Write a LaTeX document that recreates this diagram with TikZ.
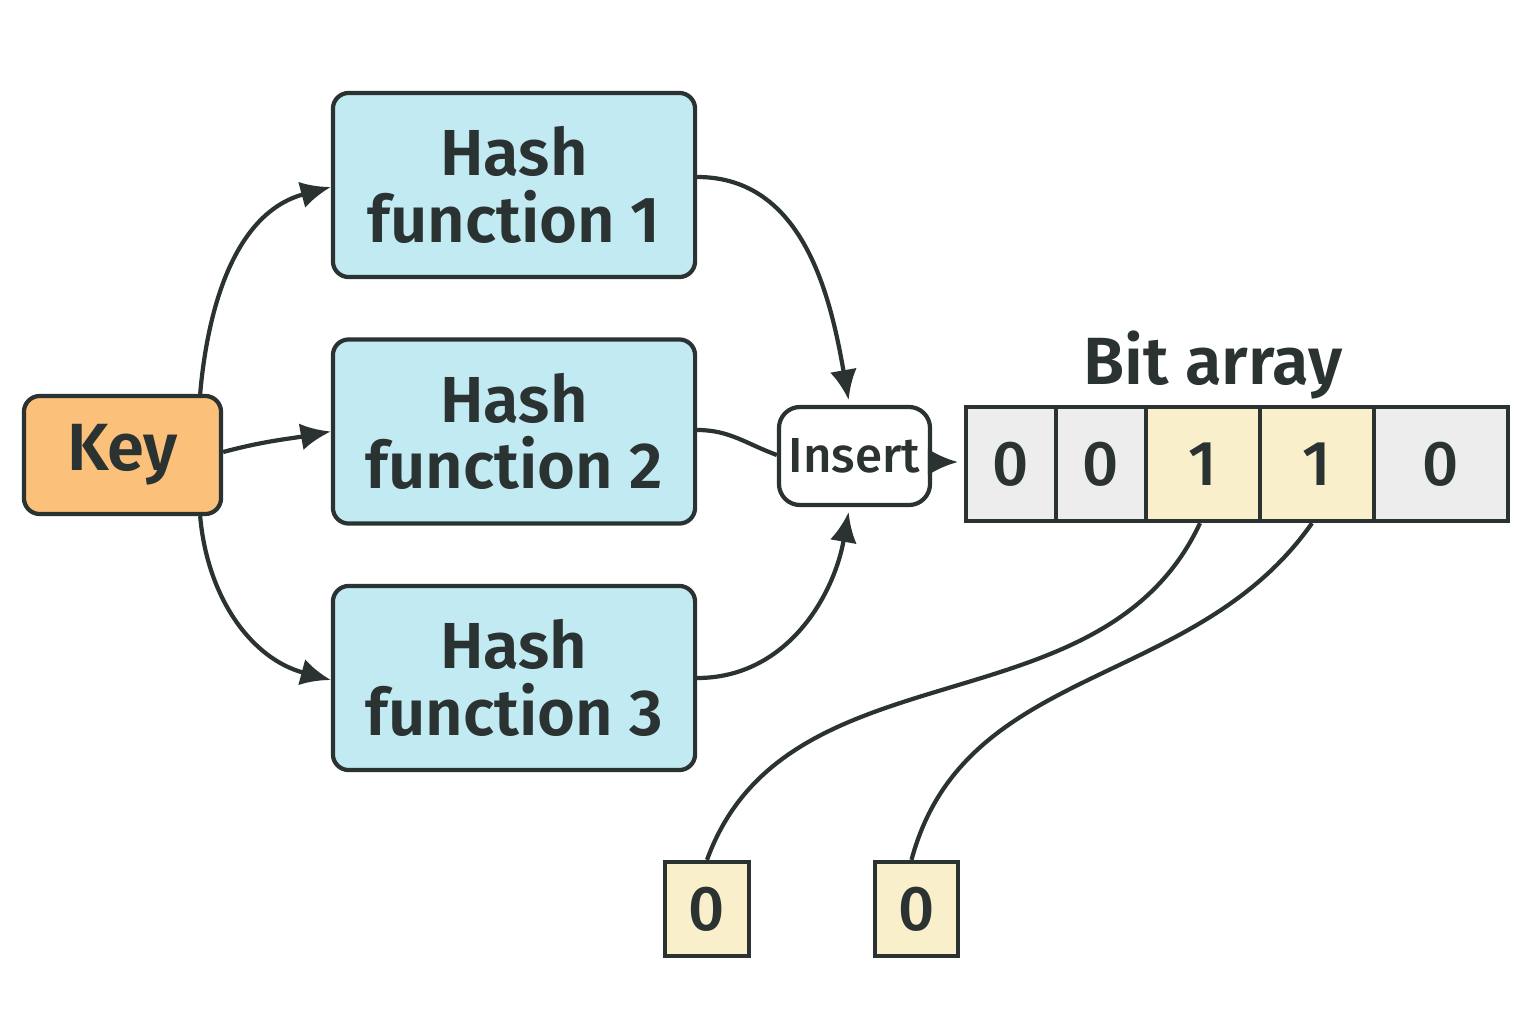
\documentclass[tikz,border=0pt]{standalone}
\usepackage{fontspec}
\setmainfont{Fira Sans}[BoldFont={Fira Sans SemiBold}]
\newfontfamily\medfont{Fira Sans Medium}
\usetikzlibrary{arrows.meta}
\definecolor{ink}{HTML}{2B3232}
\definecolor{keyfill}{HTML}{FBC07A}
\definecolor{hashfill}{HTML}{C2EAF2}
\definecolor{zerofill}{HTML}{EDEDED}
\definecolor{onefill}{HTML}{FAEFCB}
\tikzset{
  box/.style={draw=ink, line width=1.2pt, rounded corners=4.5pt, text=ink, align=center, inner sep=0pt},
  keybox/.style={box, fill=keyfill, minimum width=1.97cm, minimum height=1.18cm, font=\fontsize{19}{19}\selectfont\bfseries},
  hashbox/.style={box, fill=hashfill, minimum width=3.62cm, minimum height=1.84cm, font=\fontsize{18.5}{19}\selectfont\bfseries},
  insertbox/.style={box, fill=white, rounded corners=6pt, minimum width=1.51cm, minimum height=0.98cm, font=\fontsize{14}{14}\selectfont\medfont},
  bitcell/.style={draw=ink, line width=1.2pt, text=ink, minimum height=1.14cm, inner sep=0pt, font=\fontsize{18}{18}\selectfont\medfont},
  arr/.style={ink, line width=1.2pt, -{Latex[length=3mm,width=2.7mm]}},
  wire/.style={ink, line width=1.2pt}
}
\begin{document}
\begin{tikzpicture}[x=0.01cm, y=-0.01cm]
    \useasboundingbox (0,0) rectangle (1536,1024);

    % Key and hash functions
    \node[keybox] (key) at (122.5,455) {Key};
    \node[hashbox] (h1) at (514,185) {Hash\\function 1};
    \node[hashbox] (h2) at (514,431.5) {Hash\\function 2};
    \node[hashbox] (h3) at (514,678) {Hash\\function 3};

    \node[insertbox] (ins) at (854.5,456) {Insert};

    % Bit array
    \foreach \n/\xm/\w/\v/\f in {1/1011/0.90/0/zerofill, 2/1101/0.90/0/zerofill, 3/1203/1.14/1/onefill, 4/1317/1.14/1/onefill, 5/1441/1.34/0/zerofill}
        \node[bitcell, fill=\f, minimum width=\w cm] (b\n) at (\xm,464) {\v};
    \node[text=ink, font=\fontsize{19}{19}\selectfont\bfseries] (label) at (1213,365) {Bit array};

    % read back
    \node[bitcell, fill=onefill, minimum width=0.84cm, minimum height=0.94cm] (r1) at (707,909) {0};
    \node[bitcell, fill=onefill, minimum width=0.83cm, minimum height=0.94cm] (r2) at (916.5,909) {0};

    \draw[arr] ([xshift=-0.23cm]key.north east) to[out=85, in=195] ([yshift=-0.2mm]h1.west);
    \draw[arr] ([yshift=0.3mm]key.east) to[out=15, in=190] (h2.west);
    \draw[arr] ([xshift=-0.23cm]key.south east) to[out=-85, in=165] ([yshift=-0.2mm]h3.west);

    \draw[arr, shorten >=0.5mm] ([yshift=0.08cm]h1.east) to[out=0, in=100] ([xshift=-0.05cm]ins.north);
    \draw[wire] ([yshift=0.15mm]h2.east) to[out=0, in=160] ([yshift=0.1mm]ins.west);
    \draw[arr, shorten >=0.5mm] (h3.east) to[out=0, in=-100] ([xshift=-0.05cm]ins.south);

    \draw[arr, shorten >=0.6mm] ([yshift=-0.06cm]ins.east) -- ([yshift=0.02cm]b1.west);

    \draw[wire] ([xshift=-0.03cm]b3.south) to[out=-115, in=70] (r1.north);
    \draw[wire] ([xshift=-0.05cm]b4.south) to[out=-125, in=75] ([xshift=-0.05cm]r2.north);
\end{tikzpicture}
\end{document}
